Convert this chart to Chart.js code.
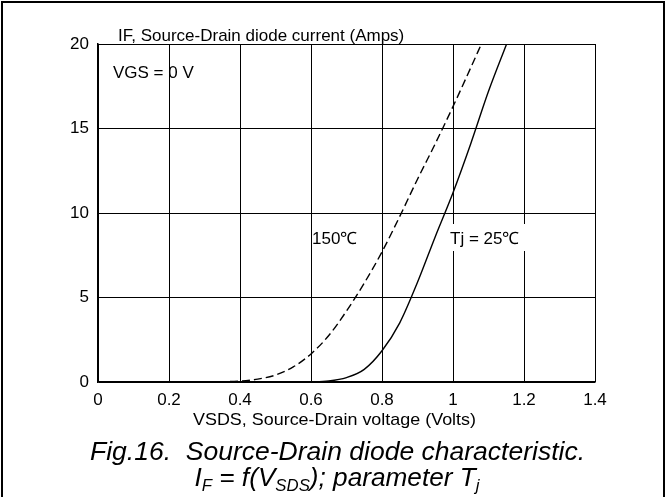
<!DOCTYPE html>
<html>
<head>
<meta charset="utf-8">
<script src="https://cdn.jsdelivr.net/npm/chart.js@4.4.1/dist/chart.umd.min.js"></script>
<style>
  html, body { margin: 0; padding: 0; background: #fff; }
  #wrap { width: 667px; height: 497px; position: relative; }
</style>
</head>
<body>
<div id="wrap"><canvas id="chartIF" width="667" height="497"></canvas></div>
<script>
// Tj = 25 C (solid)
const vsds25 = [0, 0.2, 0.4, 0.55, 0.6, 0.65, 0.7, 0.75, 0.8, 0.85, 0.9, 0.95, 1.0, 1.05, 1.1, 1.151];
const if25   = [0, 0, 0, 0, 0.01, 0.06, 0.26, 0.75, 1.85, 3.5, 5.9, 8.6, 11.2, 14.1, 17.2, 20];
// Tj = 150 C (dashed)
const vsds150 = [0, 0.2, 0.3, 0.4, 0.45, 0.5, 0.55, 0.6, 0.65, 0.7, 0.75, 0.8, 0.85, 0.9, 0.95, 1.0, 1.05, 1.08];
const if150   = [0, 0, 0.01, 0.05, 0.17, 0.41, 0.89, 1.66, 2.75, 4.2, 5.85, 7.7, 9.8, 12.0, 14.1, 16.3, 18.6, 20];

const xTicks = [0, 0.2, 0.4, 0.6, 0.8, 1, 1.2, 1.4];
const yTicks = [0, 5, 10, 15, 20];

const FONT = "'Liberation Sans', Arial, sans-serif";

function pts(xs, ys) {
  return xs.map((x, i) => ({ x: x, y: ys[i] }));
}

// draw text squeezed/stretched to a given width
function fitText(ctx, text, cx, y, size, width, style) {
  ctx.font = style + size + "px " + FONT;
  const w = ctx.measureText(text).width;
  ctx.save();
  ctx.translate(cx, y);
  ctx.scale(width / w, 1);
  ctx.textAlign = "center";
  ctx.fillText(text, 0, 0);
  ctx.restore();
}

const extraText = {
  id: "extraText",
  afterDraw(chart) {
    const ctx = chart.ctx;
    ctx.save();
    // outer frame
    ctx.strokeStyle = "#000";
    ctx.lineWidth = 2;
    ctx.strokeRect(2, 2, 662, 510);

    ctx.fillStyle = "#000";
    ctx.textBaseline = "alphabetic";
    ctx.font = "17px " + FONT;
    ctx.textAlign = "left";
    ctx.fillText("IF, Source-Drain diode current (Amps)", 118, 41);
    ctx.fillText("VGS = 0 V", 113, 78);
    ctx.fillText("150\u2103", 312, 244);

    // Tj label with white box
    const t = "Tj = 25\u2103";
    const w = ctx.measureText(t).width;
    ctx.fillStyle = "#fff";
    ctx.fillRect(448, 224, Math.max(w + 4, 78), 27);
    ctx.fillStyle = "#000";
    ctx.fillText(t, 450, 244);

    fitText(ctx, "VSDS, Source-Drain voltage (Volts)", 334.5, 425, 17, 283, "");

    // caption
    fitText(ctx, "Fig.16.  Source-Drain diode characteristic.", 337.5, 460, 25, 495, "italic ");

    // second caption line with subscripts
    const parts = [
      ["I", 25, 0], ["F", 16, 5], [" = f(V", 25, 0], ["SDS", 16, 5],
      ["); parameter T", 25, 0], ["j", 16, 5]
    ];
    let total = 0;
    parts.forEach(p => { ctx.font = "italic " + p[1] + "px " + FONT; total += ctx.measureText(p[0]).width; });
    const sx = 285 / total;
    ctx.translate(337 - 285 / 2, 486);
    ctx.scale(sx, 1);
    let x = 0;
    ctx.textAlign = "left";
    parts.forEach(p => {
      ctx.font = "italic " + p[1] + "px " + FONT;
      ctx.fillText(p[0], x, p[2]);
      x += ctx.measureText(p[0]).width;
    });
    ctx.restore();
  }
};

const chartIF = new Chart("chartIF", {
  type: "line",
  data: {
    datasets: [
      {
        label: "Tj = 25",
        data: pts(vsds25, if25),
        borderColor: "#000",
        borderWidth: 1.4,
        pointRadius: 0,
        cubicInterpolationMode: "monotone",
        fill: false,
      },
      {
        label: "150",
        data: pts(vsds150, if150),
        borderColor: "#000",
        borderWidth: 1.4,
        borderDash: [8, 4],
        pointRadius: 0,
        cubicInterpolationMode: "monotone",
        fill: false,
      },
    ],
  },
  options: {
    responsive: false,
    animation: false,
    devicePixelRatio: 1,
    layout: { padding: { left: 0, top: 44, right: 72, bottom: 0 } },
    plugins: {
      legend: { display: false },
      tooltip: { enabled: false },
    },
    scales: {
      x: {
        type: "linear",
        min: 0,
        max: 1.4,
        afterFit(scale) { scale.height = 115; },
        afterBuildTicks(scale) { scale.ticks = xTicks.map(v => ({ value: v })); },
        grid: { color: "#000", lineWidth: 1, drawTicks: false },
        border: { color: "#000", width: 1.5 },
        ticks: {
          color: "#000",
          padding: 8,
          font: { family: FONT, size: 17 },
          callback: v => String(v),
        },
      },
      y: {
        type: "linear",
        min: 0,
        max: 20,
        afterFit(scale) { scale.width = 98; },
        afterBuildTicks(scale) { scale.ticks = yTicks.map(v => ({ value: v })); },
        grid: { color: "#000", lineWidth: 1, drawTicks: false },
        border: { color: "#000", width: 1.5 },
        ticks: {
          color: "#000",
          padding: 9,
          font: { family: FONT, size: 17 },
        },
      },
    },
  },
  plugins: [extraText],
});
</script>
</body>
</html>
